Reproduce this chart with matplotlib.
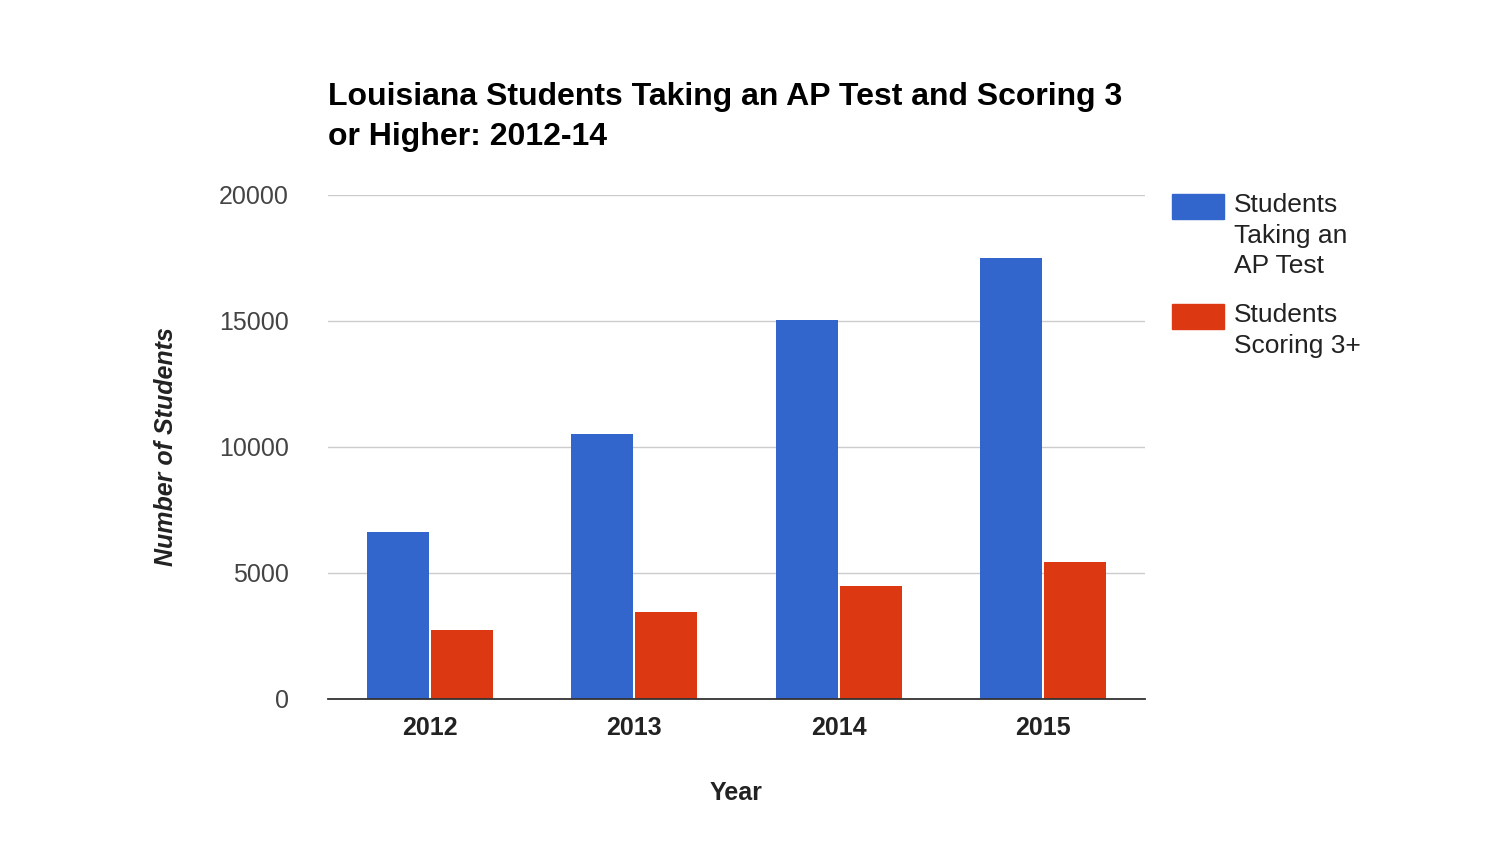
import matplotlib
matplotlib.use("Agg")
import matplotlib.pyplot as plt
from matplotlib.patches import Rectangle
import numpy as np

years = ["2012", "2013", "2014", "2015"]
taking = [6630, 10520, 15040, 17500]
scoring = [2740, 3450, 4480, 5440]
yticks = [0, 5000, 10000, 15000, 20000]
series_names = ["Students\nTaking an\nAP Test", "Students\nScoring 3+"]
colors = ["#3366cc", "#dc3912"]

plt.rcParams["font.family"] = "Liberation Sans"
W, H = 1490, 864
fig = plt.figure(figsize=(14.9, 8.64), dpi=100)
ax = fig.add_axes([328/W, 1-699/H, 817/W, 504/H])
x = np.arange(len(years))
w = 62/204
ax.bar(x - w/2 - 0.005, taking, w, color=colors[0])
ax.bar(x + w/2 + 0.005, scoring, w, color=colors[1])
ax.set_xlim(-0.5, 3.5)
ax.set_ylim(0, 20000)
ax.set_yticks(yticks)
ax.set_yticklabels([str(v) for v in yticks], fontsize=18, color="#444444")
ax.set_xticks(x)
ax.set_xticklabels(years, fontsize=18, fontweight="bold", color="#222222")
ax.tick_params(length=0, axis="both")
ax.tick_params(axis="y", pad=28)
ax.tick_params(axis="x", pad=12)
ax.grid(axis="y", color="#cccccc", linewidth=1)
ax.set_axisbelow(True)
for s in ["top", "right", "left"]:
    ax.spines[s].set_visible(False)
ax.spines["bottom"].set_color("#333333")
ax.spines["bottom"].set_linewidth(1.3)
ax.set_xlabel("Year", fontsize=18, fontweight="bold", color="#222222", labelpad=30)
ax.set_ylabel("Number of Students", fontsize=18, fontweight="bold", style="italic", color="#222222", labelpad=30)
fig.text(328/W, 1-117/H, "Louisiana Students Taking an AP Test and Scoring 3\nor Higher: 2012-14",
         fontsize=23, fontweight="bold", va="center", ha="left", linespacing=1.4)

# legend
tops = [194, 304]
for name, c, t in zip(series_names, colors, tops):
    fig.patches.append(Rectangle((1172/W, 1-(t+25)/H), 52/W, 25/H, transform=fig.transFigure,
                                 color=c))
    fig.text(1234/W, 1-(t-1)/H, name, fontsize=19, va="top", ha="left", linespacing=1.35,
             color="#222222")
fig.savefig("out.png", dpi=100, facecolor="white")
